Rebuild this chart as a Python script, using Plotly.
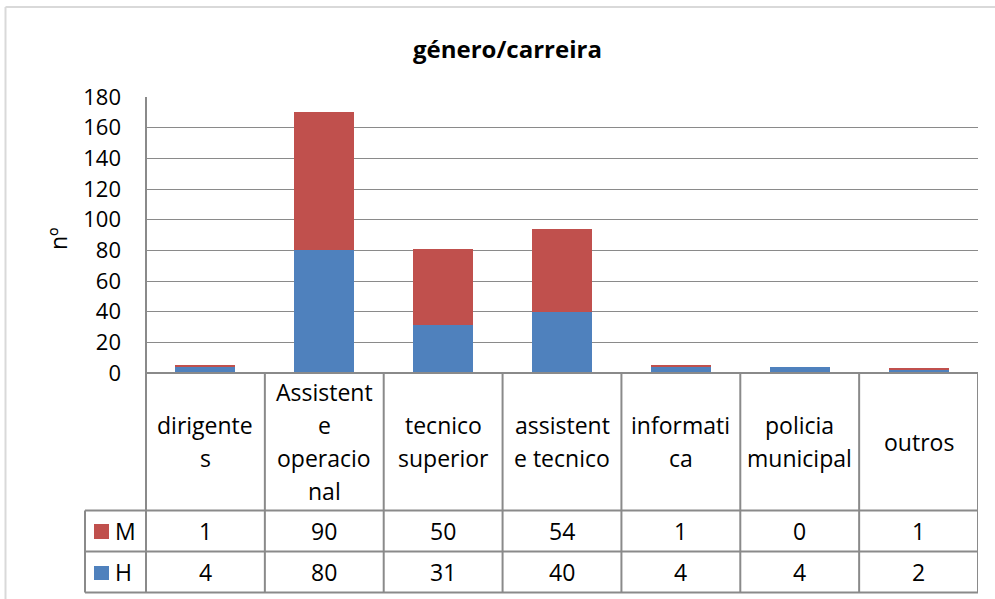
import plotly.graph_objects as go

categories = ["dirigente\ns", "Assistent\ne\noperacio\nnal", "tecnico\nsuperior",
              "assistent\ne tecnico", "informati\nca", "policia\nmunicipal", "outros"]
series_names = ["M", "H"]
values_M = [1, 90, 50, 54, 1, 0, 1]
values_H = [4, 80, 31, 40, 4, 4, 2]
y_ticks = [0, 20, 40, 60, 80, 100, 120, 140, 160, 180]
title_text = "género/carreira"
y_title = "nº"

COL_M = "#c0504d"
COL_H = "#4f81bd"
GRID = "#8a8a8a"
FONT = "Open Sans"
FS = 23

W, H = 995, 599
L, R, T, B = 146, 978, 97, 373
n = len(categories)


def yp(py):
    return (B - py) / (B - T)


def xp(px):
    return (px - L) / (R - L)


xs = list(range(n))
fig = go.Figure()
fig.add_trace(go.Bar(x=xs, y=values_H, name=series_names[1], marker_color=COL_H,
                     width=0.505, marker_line_width=0))
fig.add_trace(go.Bar(x=xs, y=values_M, name=series_names[0], marker_color=COL_M,
                     width=0.505, marker_line_width=0))

shapes = []
line = dict(color=GRID, width=2)
shapes.append(dict(type="line", xref="paper", yref="paper", x0=0, x1=1,
                   y0=yp(373), y1=yp(373), line=line))
for py in [510.5, 551.5, 592.5]:
    shapes.append(dict(type="line", xref="paper", yref="paper", x0=xp(85), x1=1,
                       y0=yp(py), y1=yp(py), line=line))
shapes.append(dict(type="line", xref="paper", yref="paper", x0=0, x1=0,
                   y0=yp(97), y1=yp(592.5), line=line))
for i in range(1, n + 1):
    shapes.append(dict(type="line", xref="x", yref="paper", x0=i - 0.5, x1=i - 0.5,
                       y0=yp(373), y1=yp(592.5), line=line))
shapes.append(dict(type="line", xref="paper", yref="paper", x0=xp(85), x1=xp(85),
                   y0=yp(510.5), y1=yp(592.5), line=line))
for col, (t0, t1) in [(COL_M, (524, 539)), (COL_H, (566, 580))]:
    shapes.append(dict(type="rect", xref="paper", yref="paper", x0=xp(94), x1=xp(109),
                       y0=yp(t1), y1=yp(t0), fillcolor=col, line=dict(width=0)))
# outer chart border (left and top edges visible)
border = dict(color="#d9d9d9", width=2)
shapes.append(dict(type="line", xref="paper", yref="paper", x0=xp(5.5), x1=xp(5.5),
                   y0=yp(7), y1=yp(610), line=border))
shapes.append(dict(type="line", xref="paper", yref="paper", x0=xp(5.5), x1=xp(1000),
                   y0=yp(7), y1=yp(7), line=border))

tf = dict(size=FS, color="black", family=FONT)
annotations = []
for i, lab in enumerate(categories):
    parts = lab.split("\n")
    k = len(parts)
    for j, p in enumerate(parts):
        py = 441.5 + (j - (k - 1) / 2) * 33
        annotations.append(dict(x=i, y=yp(py), xref="x", yref="paper", text=p,
                                showarrow=False, xanchor="center", yanchor="middle",
                                font=tf))
for i in range(n):
    annotations.append(dict(x=i, y=yp(531), xref="x", yref="paper", text=str(values_M[i]),
                            showarrow=False, xanchor="center", yanchor="middle", font=tf))
    annotations.append(dict(x=i, y=yp(572), xref="x", yref="paper", text=str(values_H[i]),
                            showarrow=False, xanchor="center", yanchor="middle", font=tf))
for name, py in [(series_names[0], 531), (series_names[1], 572)]:
    annotations.append(dict(x=xp(113), y=yp(py), xref="paper", yref="paper", text=name,
                            showarrow=False, xanchor="left", yanchor="middle", font=tf))
annotations.append(dict(x=xp(58), y=yp(239), xref="paper", yref="paper", text=y_title,
                        textangle=-90, showarrow=False, xanchor="center", yanchor="middle",
                        font=tf))
annotations.append(dict(x=xp(507), y=yp(48), xref="paper", yref="paper",
                        text="<b>" + title_text + "</b>", showarrow=False,
                        xanchor="center", yanchor="middle",
                        font=dict(size=24, color="black", family=FONT)))

fig.update_layout(
    width=W, height=H,
    margin=dict(l=L, r=W - R, t=T, b=H - B, autoexpand=False),
    barmode="stack",
    showlegend=False,
    plot_bgcolor="white", paper_bgcolor="white",
    font=dict(family=FONT, size=FS, color="black"),
    xaxis=dict(range=[-0.5, n - 0.5], showticklabels=False, showgrid=False,
               zeroline=False, showline=False, ticks=""),
    yaxis=dict(range=[0, 180], tickvals=y_ticks, showgrid=True, gridcolor=GRID,
               gridwidth=1, zeroline=False, showline=False, ticks="",
               ticklabelstandoff=24, tickfont=dict(size=22, family=FONT)),
    shapes=shapes,
    annotations=annotations,
)

fig.write_html("out.html",
               config={"displayModeBar": False},
               post_script="document.body.style.margin='0px';"
                           "document.body.style.overflow='hidden';")
